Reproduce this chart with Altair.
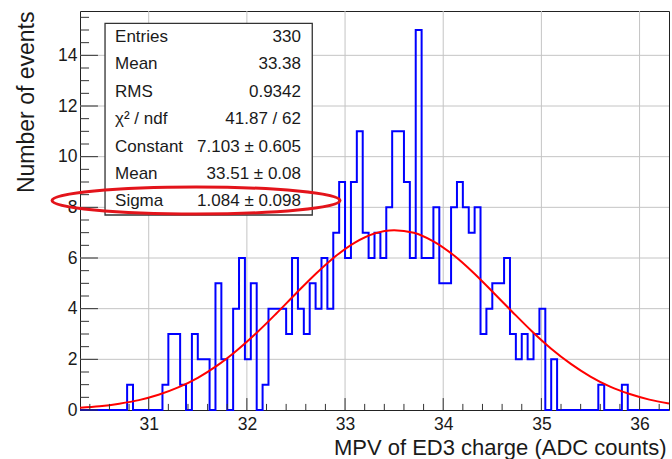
import altair as alt
import pandas as pd

# ---------------- data ----------------
x_lo, x_hi, bin_w = 30.3, 36.3, 0.06
counts = [0, 0, 0, 0, 0, 0, 0, 0, 1, 0,
          0, 0, 0, 0, 1, 3, 3, 1, 0, 3,
          2, 2, 0, 5, 2, 0, 4, 6, 2, 5,
          0, 1, 4, 4, 4, 3, 6, 4, 3, 5,
          4, 6, 4, 7, 9, 6, 9, 11, 7, 6,
          7, 6, 8, 11, 11, 9, 6, 15, 6, 6,
          8, 5, 5, 8, 9, 8, 7, 8, 3, 4,
          5, 5, 6, 3, 2, 3, 2, 3, 4, 0,
          2, 0, 0, 0, 0, 0, 0, 0, 1, 0,
          0, 0, 1, 0, 0, 0, 0, 0, 0, 0]

fit_x = [30.3, 30.5, 30.7, 30.9, 31.1, 31.3, 31.5, 31.7, 31.9, 32.1, 32.3,
         32.5, 32.7, 32.9, 33.1, 33.3, 33.5, 33.7, 33.9, 34.1, 34.3, 34.5,
         34.7, 34.9, 35.1, 35.3, 35.5, 35.7, 35.9, 36.1, 36.3]
fit_y = [0.09, 0.15, 0.25, 0.39, 0.60, 0.89, 1.27, 1.76, 2.36, 3.05, 3.81,
         4.60, 5.37, 6.06, 6.61, 6.97, 7.10, 7.00, 6.66, 6.13, 5.45, 4.68,
         3.89, 3.12, 2.42, 1.82, 1.32, 0.92, 0.63, 0.41, 0.26]

stat_labels = ["Entries", "Mean", "RMS", "χ² / ndf", "Constant", "Mean", "Sigma"]
stat_values = ["330", "33.38", "0.9342", "41.87 / 62", "7.103 ± 0.605",
               "33.51 ± 0.08", "1.084 ± 0.098"]

x_major = [31, 32, 33, 34, 35, 36]
y_major = [0, 2, 4, 6, 8, 10, 12, 14]

# ---------------- tables ----------------
edges = [round(x_lo + bin_w * i, 2) for i in range(len(counts) + 1)]
hist_df = pd.DataFrame({"x": edges, "n": counts + [counts[-1]]})
fit_df = pd.DataFrame({"x": fit_x, "f": fit_y})

x_minor = [round(30.4 + 0.2 * i, 1) for i in range(30)]
x_minor = [v for v in x_minor if abs(v - round(v)) > 1e-6]
y_minor = [0.5 * i for i in range(32) if i % 4 != 0]

xt_df = pd.DataFrame({"v": x_major + x_minor,
                      "base": 0.0,
                      "len": [0.47] * len(x_major) + [0.24] * len(x_minor)})
yt_df = pd.DataFrame({"v": y_major + y_minor,
                      "base": x_lo,
                      "len": [x_lo + 0.183] * len(y_major) + [x_lo + 0.092] * len(y_minor)})

# grid lines drawn as rules (major positions only)
xg_df = pd.DataFrame({"v": x_major, "b": 0.0, "t": 15.75})
yg_df = pd.DataFrame({"v": y_major[1:], "b": x_lo, "t": x_hi})

box_top, box_bot = 15.265, 7.697
box_l, box_r = 30.555, 32.666
row_h = (box_top - box_bot) / len(stat_labels)
stats_df = pd.DataFrame({
    "label": stat_labels,
    "value": stat_values,
    "y": [box_top - row_h * (i + 0.5) for i in range(len(stat_labels))],
    "xl": 30.657,
    "xr": 32.551,
})
box_df = pd.DataFrame({"x": [box_l], "x2": [box_r], "y": [box_top], "y2": [box_bot]})
ell_df = pd.DataFrame({"x": [31.482], "y": [8.27]})

# ---------------- chart ----------------
FONT = "Liberation Sans"
xs = alt.Scale(domain=[x_lo, x_hi], nice=False, zero=False)
ys = alt.Scale(domain=[0, 15.75], nice=False, zero=False)

xa = alt.Axis(
    values=x_major, grid=False, ticks=False, domain=False, labelFontSize=17.5,
    labelFont=FONT, labelColor="#1a1a1a", labelPadding=5,
    title="MPV of ED3 charge (ADC counts)", titleFont=FONT,
    titleFontSize=22, titleFontWeight="normal", titleColor="#1a1a1a",
    titleAnchor="end", titleAlign="right", titleX=586,
    titleBaseline="alphabetic", titleY=44)
ya = alt.Axis(
    values=y_major, grid=False, ticks=False, domain=False, labelFontSize=17.5,
    labelFont=FONT, labelColor="#1a1a1a", labelPadding=3,
    title="Number of events", titleFont=FONT, titleFontSize=23,
    titleFontWeight="normal", titleColor="#1a1a1a", titleAnchor="end",
    titleBaseline="alphabetic", titleX=-47)


def X(f):
    return alt.X(f, scale=xs, axis=xa)


def Y(f):
    return alt.Y(f, scale=ys, axis=ya)


GRID = dict(color="#c4c4c4", strokeWidth=1, opacity=1)
xgrid = alt.Chart(xg_df).mark_rule(**GRID).encode(
    x=X("v:Q"), y=Y("b:Q"), y2=alt.Y2("t:Q"))
ygrid = alt.Chart(yg_df).mark_rule(**GRID).encode(
    y=Y("v:Q"), x=X("b:Q"), x2=alt.X2("t:Q"))

hist = alt.Chart(hist_df).mark_line(
    interpolate="step-after", color="#0000ff", strokeWidth=2
).encode(x=X("x:Q"), y=Y("n:Q"))

fit = alt.Chart(fit_df).mark_line(
    color="#ff0000", strokeWidth=2, interpolate="monotone"
).encode(x=X("x:Q"), y=Y("f:Q"))

xticks = alt.Chart(xt_df).mark_rule(color="#333", strokeWidth=1).encode(
    x=X("v:Q"), y=Y("base:Q"), y2=alt.Y2("len:Q"))
yticks = alt.Chart(yt_df).mark_rule(color="#333", strokeWidth=1).encode(
    y=Y("v:Q"), x=X("base:Q"), x2=alt.X2("len:Q"))

box = alt.Chart(box_df).mark_rect(
    fill="white", stroke="#333", strokeWidth=1.3
).encode(x=X("x:Q"), x2="x2:Q", y=Y("y:Q"), y2="y2:Q")

lab = alt.Chart(stats_df).mark_text(
    align="left", baseline="middle", font=FONT, fontSize=17, color="#1a1a1a"
).encode(x=X("xl:Q"), y=Y("y:Q"), text="label:N")
val = alt.Chart(stats_df).mark_text(
    align="right", baseline="middle", font=FONT, fontSize=17, color="#1a1a1a"
).encode(x=X("xr:Q"), y=Y("y:Q"), text="value:N")

k = 0.09375
c = round(0.5523 * k, 5)
ell_path = (f"M -1 0 C -1 {-c} -0.5523 {-k} 0 {-k} C 0.5523 {-k} 1 {-c} 1 0 "
            f"C 1 {c} 0.5523 {k} 0 {k} C -0.5523 {k} -1 {c} -1 0 Z")
ellipse = alt.Chart(ell_df).mark_point(
    shape=ell_path, size=288 * 288, filled=False, stroke="#e3141b",
    strokeWidth=3, opacity=1
).encode(x=X("x:Q"), y=Y("y:Q"))

chart = alt.layer(xgrid, ygrid, hist, fit, xticks, yticks, box, lab, val,
                  ellipse).properties(
    width=589, height=399,
    autosize=alt.AutoSizeParams(type="none"),
    padding={"left": 80, "top": 11, "right": 3, "bottom": 49},
    background="white",
).configure_view(stroke="#222", strokeWidth=1)

chart.save("out.html", embed_options={"renderer": "svg", "actions": False})
